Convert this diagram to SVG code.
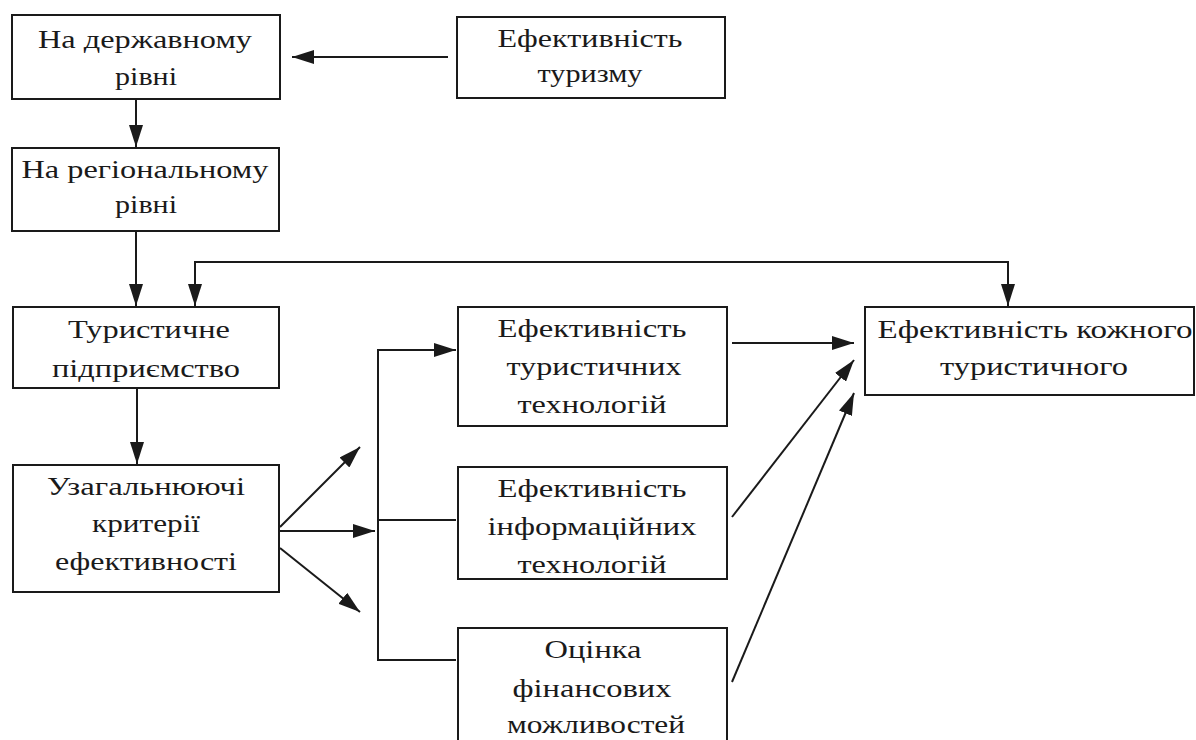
<svg xmlns="http://www.w3.org/2000/svg" width="1196" height="740" viewBox="0 0 1196 740">
<style>
.box{fill:#fff;stroke:#1a1a1a;stroke-width:2}
.t{font-size:26px;fill:#1a1a1a;text-anchor:middle}
.c{fill:none;stroke:#1a1a1a;stroke-width:2}
</style>
<defs>
<marker id="ah" markerUnits="userSpaceOnUse" markerWidth="24" markerHeight="14" refX="22" refY="7" orient="auto">
<path d="M0,0 L22,7 L0,14 z" fill="#1a1a1a"/>
</marker>
</defs>
<rect width="1196" height="740" fill="#fff"/>
<g id="connectors">
<line class="c" x1="448" y1="57" x2="292" y2="57" marker-end="url(#ah)"/>
<line class="c" x1="136" y1="99" x2="136" y2="147" marker-end="url(#ah)"/>
<line class="c" x1="136" y1="231" x2="136" y2="306" marker-end="url(#ah)"/>
<polyline class="c" points="1008,262 195,262 195,306" marker-end="url(#ah)"/>
<line class="c" x1="1008" y1="261" x2="1008" y2="306" marker-end="url(#ah)"/>
<line class="c" x1="137" y1="388" x2="137" y2="464" marker-end="url(#ah)"/>
<line class="c" x1="280" y1="527" x2="360" y2="447" marker-end="url(#ah)"/>
<line class="c" x1="280" y1="531" x2="375" y2="531" marker-end="url(#ah)"/>
<line class="c" x1="280" y1="548" x2="360" y2="612" marker-end="url(#ah)"/>
<line class="c" x1="378" y1="349" x2="378" y2="661"/>
<line class="c" x1="377" y1="350" x2="456" y2="350" marker-end="url(#ah)"/>
<line class="c" x1="378" y1="520" x2="456" y2="520"/>
<line class="c" x1="377" y1="660" x2="456" y2="660"/>
<line class="c" x1="732" y1="343" x2="854" y2="343" marker-end="url(#ah)"/>
<line class="c" x1="732" y1="517" x2="854" y2="360" marker-end="url(#ah)"/>
<line class="c" x1="732" y1="682" x2="854" y2="393" marker-end="url(#ah)"/>
</g>
<g font-family="Liberation Serif, Times New Roman, serif">
<g id="n1"><rect class="box" x="12" y="15" width="268" height="84"/>
<text class="t" x="145" y="48" textLength="214" lengthAdjust="spacingAndGlyphs">На державному</text>
<text class="t" x="146" y="85" textLength="62" lengthAdjust="spacingAndGlyphs">рівні</text></g>
<g id="n2"><rect class="box" x="457" y="17" width="268" height="81"/>
<text class="t" x="590" y="47" textLength="185" lengthAdjust="spacingAndGlyphs">Ефективність</text>
<text class="t" x="590" y="82" textLength="105" lengthAdjust="spacingAndGlyphs">туризму</text></g>
<g id="n3"><rect class="box" x="12" y="148" width="267" height="83"/>
<text class="t" x="145" y="178" textLength="247" lengthAdjust="spacingAndGlyphs">На регіональному</text>
<text class="t" x="146" y="213" textLength="62" lengthAdjust="spacingAndGlyphs">рівні</text></g>
<g id="n4"><rect class="box" x="13" y="307" width="266" height="81"/>
<text class="t" x="149" y="338" textLength="162" lengthAdjust="spacingAndGlyphs">Туристичне</text>
<text class="t" x="146" y="377" textLength="188" lengthAdjust="spacingAndGlyphs">підприємство</text></g>
<g id="n5"><rect class="box" x="13" y="465" width="266" height="127"/>
<text class="t" x="146" y="495" textLength="198" lengthAdjust="spacingAndGlyphs">Узагальнюючі</text>
<text class="t" x="146" y="532" textLength="108" lengthAdjust="spacingAndGlyphs">критерії</text>
<text class="t" x="146" y="570" textLength="182" lengthAdjust="spacingAndGlyphs">ефективності</text></g>
<g id="n6"><rect class="box" x="458" y="307" width="269" height="119"/>
<text class="t" x="592" y="337" textLength="189" lengthAdjust="spacingAndGlyphs">Ефективність</text>
<text class="t" x="594" y="375" textLength="175" lengthAdjust="spacingAndGlyphs">туристичних</text>
<text class="t" x="592" y="413" textLength="149" lengthAdjust="spacingAndGlyphs">технологій</text></g>
<g id="n7"><rect class="box" x="458" y="467" width="269" height="112"/>
<text class="t" x="592" y="497" textLength="189" lengthAdjust="spacingAndGlyphs">Ефективність</text>
<text class="t" x="592" y="535" textLength="209" lengthAdjust="spacingAndGlyphs">інформаційних</text>
<text class="t" x="592" y="573" textLength="149" lengthAdjust="spacingAndGlyphs">технологій</text></g>
<g id="n8"><rect class="box" x="458" y="628" width="269" height="116"/>
<text class="t" x="593" y="658" textLength="97" lengthAdjust="spacingAndGlyphs">Оцінка</text>
<text class="t" x="592" y="697" textLength="159" lengthAdjust="spacingAndGlyphs">фінансових</text>
<text class="t" x="596" y="733" textLength="178" lengthAdjust="spacingAndGlyphs">можливостей</text></g>
<g id="n9"><rect class="box" x="865" y="307" width="329" height="88"/>
<text class="t" x="1035" y="338" textLength="315" lengthAdjust="spacingAndGlyphs">Ефективність кожного</text>
<text class="t" x="1034" y="375" textLength="188" lengthAdjust="spacingAndGlyphs">туристичного</text></g>
</g>
</svg>
